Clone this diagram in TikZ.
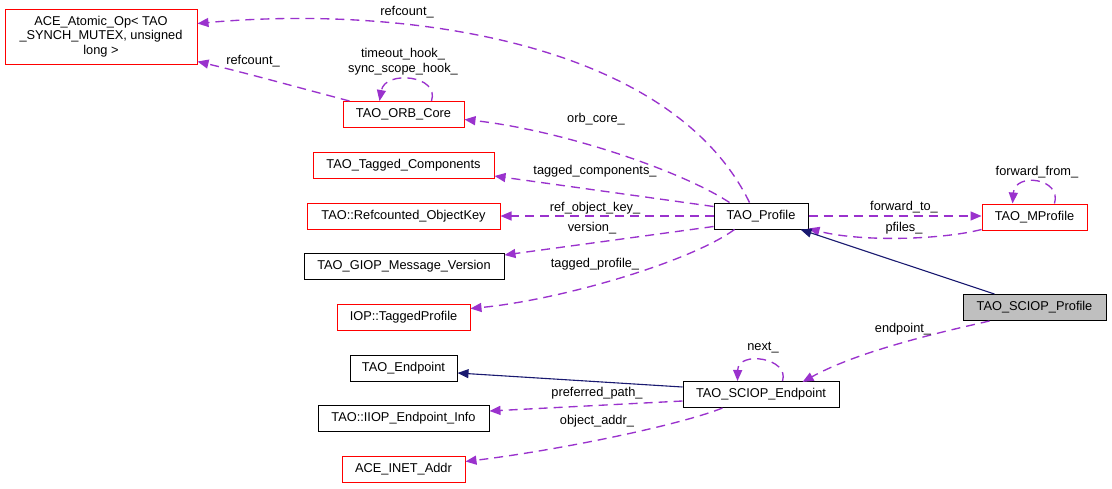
\documentclass[tikz,border=0pt]{standalone}
\usepackage{fontspec}
\setmainfont{Liberation Sans}
\usetikzlibrary{calc,arrows.meta}
\definecolor{refc}{HTML}{9A32CD}
\definecolor{inhc}{HTML}{191970}
\definecolor{selfill}{HTML}{BFBFBF}
\newcommand\diafont{\fontsize{12.8}{14.5}\selectfont}
\tikzset{
  box/.style={draw=black, line width=1pt, minimum height=26pt, inner sep=0pt, font=\diafont, fill=white},
  redbox/.style={box, draw=red},
  selbox/.style={box, fill=selfill},
  refedge/.style={draw=refc, line width=1.35pt, dash pattern=on 9pt off 6pt, -{Triangle[length=11pt,width=9pt]}},
  inhedge/.style={draw=inhc, line width=1.1pt, -{Triangle[length=11pt,width=9pt]}},
  lbl/.style={font=\diafont, inner sep=0pt, text=black},
}
\begin{document}
\begin{tikzpicture}[x=1pt,y=-1pt]
\useasboundingbox (0,0) rectangle (1112,488);
% nodes
\node[redbox, minimum width=192pt, minimum height=55pt, align=center] (atomic) at (101,36.5) {ACE\_Atomic\_Op< TAO\\\_SYNCH\_MUTEX, unsigned\\long >};
\node[redbox, minimum width=121pt] (orb) at (403.5,114.5) {TAO\_ORB\_Core};
\node[redbox, minimum width=181pt] (tagcomp) at (403.5,165.5) {TAO\_Tagged\_Components};
\node[redbox, minimum width=193pt] (refkey) at (403.5,216) {TAO::Refcounted\_ObjectKey};
\node[box, minimum width=200pt] (giop) at (404,266.5) {TAO\_GIOP\_Message\_Version};
\node[redbox, minimum width=133pt] (tagprof) at (403.5,317) {IOP::TaggedProfile};
\node[box, minimum width=107pt] (endp) at (403.5,368) {TAO\_Endpoint};
\node[box, minimum width=171pt] (iiop) at (403.5,418.5) {TAO::IIOP\_Endpoint\_Info};
\node[redbox, minimum width=123pt] (inet) at (403.5,469) {ACE\_INET\_Addr};
\node[box, minimum width=94pt] (prof) at (761,216) {TAO\_Profile};
\node[redbox, minimum width=105pt] (mprof) at (1034.5,217) {TAO\_MProfile};
\node[selbox, minimum width=143pt] (scprof) at (1034.5,307.5) {TAO\_SCIOP\_Profile};
\node[box, minimum width=156pt] (scend) at (761,394.5) {TAO\_SCIOP\_Endpoint};
% edges
\draw[refedge] ($(prof.north west)+(36,0)$) .. controls (670,40) and (400,5) .. ($(atomic.north east)+(0,15)$);
\node[lbl] (l1) at (407,12) {refcount\_};
\draw[refedge] ($(orb.north west)+(7,0)$) .. controls (300,88) and (250,74) .. ($(atomic.south east)+(0,-3)$);
\node[lbl] (l2) at (253,61) {refcount\_};
\draw[refedge] ($(orb.north west)+(89,0)$) .. controls (440,75) and (385,70) .. ($(orb.north west)+(37,0)$);
\node[lbl, align=center] (l3) at (403,61.5) {timeout\_hook\_\\sync\_scope\_hook\_};
\draw[refedge] ($(prof.north west)+(16,0)$) .. controls (680,170) and (560,130) .. ($(orb.east)+(0,5)$);
\node[lbl] (l4) at (596,119) {orb\_core\_};
\draw[refedge] ($(prof.north west)+(0,4)$) -- ($(tagcomp.south east)+(0,-3)$);
\node[lbl] (l5) at (595,171) {tagged\_components\_};
\draw[refedge] (prof.west) -- (refkey.east);
\node[lbl] (l6) at (595,208) {ref\_object\_key\_};
\draw[refedge] ($(prof.south west)+(0,-3)$) -- ($(giop.north east)+(0,2)$);
\node[lbl] (l7) at (592,228) {version\_};
\draw[refedge] ($(prof.south west)+(21,0)$) .. controls (690,262) and (560,300) .. ($(tagprof.north east)+(0,5)$);
\node[lbl] (l8) at (595,264) {tagged\_profile\_};
\draw[refedge] (prof.east) -- (prof.east -| mprof.west);
\node[lbl] (l9) at (904,207) {forward\_to\_};
\draw[refedge] ($(mprof.south west)+(0,-1)$) .. controls (940,240) and (860,242) .. ($(prof.south east)+(0,-1)$);
\node[lbl] (l10) at (904,228) {pfiles\_};
\draw[refedge] ($(mprof.north west)+(73,0)$) .. controls (1062,178) and (1015,172) .. ($(mprof.north west)+(31,0)$);
\node[lbl] (l11) at (1037,172) {forward\_from\_};
\draw[inhedge] ($(scprof.north west)+(32,0)$) -- ($(prof.south east)+(-8,0)$);
\draw[refedge] ($(scprof.south west)+(27,0)$) .. controls (950,330) and (860,350) .. ($(scend.north east)+(-37,1)$);
\node[lbl] (l13) at (903,329) {endpoint\_};
\draw[refedge] ($(scend.north west)+(100,0)$) .. controls (790,358) and (738,350) .. ($(scend.north west)+(55,0)$);
\node[lbl] (l14) at (763,348) {next\_};
\draw[inhedge] ($(scend.north west)+(0,6)$) -- ($(endp.east)+(0,5)$);
\draw[refedge] ($(scend.south west)+(0,-7)$) -- ($(iiop.north east)+(0,6)$);
\node[lbl] (l16) at (597,393) {preferred\_path\_};
\draw[refedge] ($(scend.south west)+(40,0)$) .. controls (680,425) and (560,450) .. ($(inet.north east)+(0,6)$);
\node[lbl] (l17) at (597,421) {object\_addr\_};
\end{tikzpicture}
\end{document}
